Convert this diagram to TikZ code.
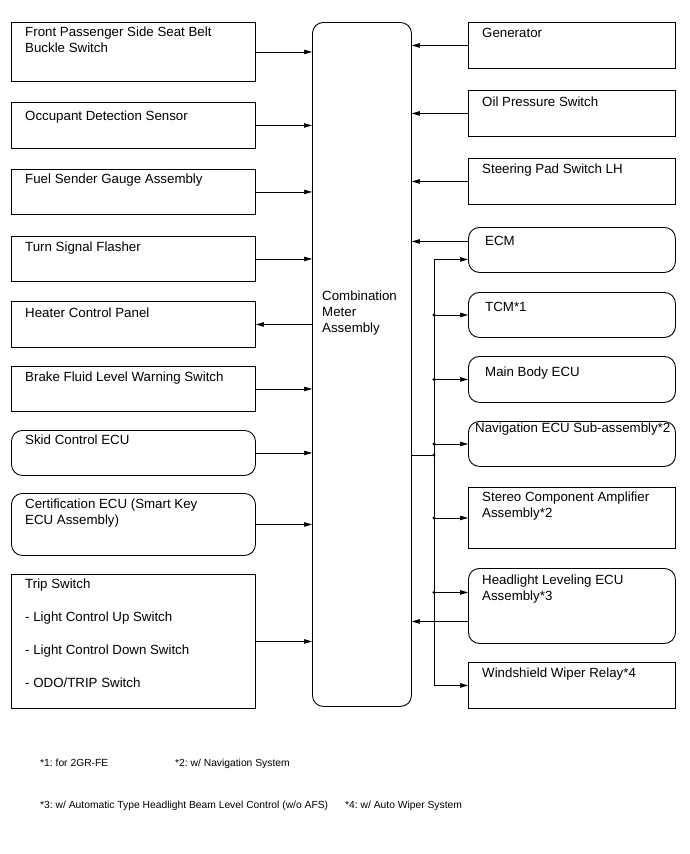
\documentclass[tikz,border=0pt]{standalone}
\usepackage{fontspec}
\setmainfont{Liberation Sans}
\usetikzlibrary{arrows.meta}
\frenchspacing

\tikzset{
  blk/.style={draw, rectangle, anchor=north west, inner sep=0pt, line width=0.9pt},
  rblk/.style={blk, rounded corners=11pt},
  txt/.style={anchor=north west, inner sep=0pt, align=left, xshift=14pt, yshift=-#1},
  txt/.default=6pt,
  wire/.style={line width=0.6pt},
  note/.style={anchor=base west, inner sep=0pt, font=\fontsize{10.3}{12}\selectfont},
}

\begin{document}
\begin{tikzpicture}[x=1pt,y=-1pt,font=\fontsize{13.3}{16}\selectfont,>={Triangle[length=8pt,width=4.5pt]}]
	\useasboundingbox (0,0) rectangle (690,854);
	% Combination meter
	\node (cma) [rblk, minimum width=99pt, minimum height=684pt, label={[txt=269pt, xshift=-4pt]north west:Combination\\Meter\\Assembly}] at (312,22) {};

	% Left side
	\node (fps) [blk, minimum width=244pt, minimum height=59pt, label={[txt=5pt]north west:{Front Passenger Side Seat Belt\\Buckle Switch}}] at (11,22) {};
	\node (ods) [blk, minimum width=244pt, minimum height=46pt, label={[txt=9pt]north west:Occupant Detection Sensor}] at (11,102) {};
	\node (fsg) [blk, minimum width=244pt, minimum height=45pt, label={[txt=5pt]north west:Fuel Sender Gauge Assembly}] at (11,169) {};
	\node (tsf) [blk, minimum width=244pt, minimum height=45pt, label={[txt]north west:Turn Signal Flasher}] at (11,236) {};
	\node (hcp) [blk, minimum width=244pt, minimum height=46pt, label={[txt=7pt]north west:Heater Control Panel}] at (11,301) {};
	\node (bfl) [blk, minimum width=244pt, minimum height=45pt, label={[txt]north west:Brake Fluid Level Warning Switch}] at (11,366) {};
	\node (scu) [rblk, minimum width=244pt, minimum height=45pt, label={[txt=5pt]north west:Skid Control ECU}] at (11,430) {};
	\node (cecu) [rblk, minimum width=244pt, minimum height=62pt, label={[txt]north west:{Certification ECU (Smart Key\\ECU Assembly)}}] at (11,493) {};
	\node (trip) [blk, minimum width=244pt, minimum height=134pt, label={[txt=5pt, font=\fontsize{13.3}{33}\selectfont]north west:{Trip Switch\\- Light Control Up Switch\\- Light Control Down Switch\\- ODO/TRIP Switch}}] at (11,574) {};

	\draw[wire,->] (fps.east) -- (fps.east -| cma.west);
	\draw[wire,->] (ods.east) -- (ods.east -| cma.west);
	\draw[wire,->] (fsg.east) -- (fsg.east -| cma.west);
	\draw[wire,->] (tsf.east) -- (tsf.east -| cma.west);
	\draw[wire,->] (hcp.east -| cma.west) -- (hcp.east);
	\draw[wire,->] (bfl.east) -- (bfl.east -| cma.west);
	\draw[wire,->] (scu.east) -- (scu.east -| cma.west);
	\draw[wire,->] (cecu.east) -- (cecu.east -| cma.west);
	\draw[wire,->] (trip.east) -- (trip.east -| cma.west);

	% Right side
	\node (gen) [blk, minimum width=207pt, minimum height=46pt, label={[txt]north west:Generator}] at (468,22) {};
	\node (ops) [blk, minimum width=207pt, minimum height=46pt, label={[txt=7pt]north west:Oil Pressure Switch}] at (468,90) {};
	\node (sps) [blk, minimum width=207pt, minimum height=46pt, label={[txt]north west:Steering Pad Switch LH}] at (468,158) {};
	\node (ecm) [rblk, minimum width=207pt, minimum height=45pt, label={[txt=9pt, xshift=3pt]north west:ECM}] at (468,227) {};
	\node (tcm) [rblk, minimum width=207pt, minimum height=45pt, label={[txt=10pt, xshift=3pt]north west:TCM*1}] at (468,292) {};
	\node (mbe) [rblk, minimum width=207pt, minimum height=46pt, label={[txt=11pt, xshift=3pt]north west:Main Body ECU}] at (468,356) {};
	\node (nav) [rblk, minimum width=207pt, minimum height=45pt, label={[txt=2pt, xshift=-7pt]north west:Navigation ECU Sub-assembly*2}] at (468,421) {};
	\node (sca) [blk, minimum width=207pt, minimum height=61pt, label={[txt=5pt]north west:{Stereo Component Amplifier\\Assembly*2}}] at (468,487) {};
	\node (hle) [rblk, minimum width=207pt, minimum height=75pt, label={[txt=7pt]north west:{Headlight Leveling ECU\\Assembly*3}}] at (468,568) {};
	\node (wwr) [blk, minimum width=207pt, minimum height=46pt, label={[txt]north west:Windshield Wiper Relay*4}] at (468,662) {};

	\draw[wire,->] (gen.west) -- (gen.west -| cma.east);
	\draw[wire,->] (ops.west) -- (ops.west -| cma.east);
	\draw[wire,->] (sps.west) -- (sps.west -| cma.east);
	\draw[wire,->] ([yshift=8.5pt]ecm.west) -- ([yshift=8.5pt]ecm.west -| cma.east);
	\draw[wire,->] ([yshift=-15.5pt]hle.west) -- ([yshift=-15.5pt]hle.west -| cma.east);

	% Bus to the ECUs
	\coordinate (jn) at (434,455);
	\coordinate (hlin) at ([yshift=13.5pt]hle.west);
	\draw[wire] (cma.east |- jn) -- (jn);
	\draw[wire,->] (jn) |- ([yshift=-9.5pt]ecm.west);
	\draw[wire,->] (jn) |- (wwr.west);
	\draw[wire,->] (jn |- tcm.west) -- (tcm.west);
	\draw[wire,->] (jn |- mbe.west) -- (mbe.west);
	\draw[wire,->] (jn |- nav.west) -- (nav.west);
	\draw[wire,->] (jn |- sca.west) -- (sca.west);
	\draw[wire,->] (jn |- hlin) -- (hlin);
	\fill (jn |- tcm.west) circle (1.6pt);
	\fill (jn |- mbe.west) circle (1.6pt);
	\fill (jn |- nav.west) circle (1.6pt);
	\fill (jn) circle (1.6pt);
	\fill (jn |- sca.west) circle (1.6pt);
	\fill (jn |- hlin) circle (1.6pt);

	% Notes
	\node (n1) [note] at (40,766) {*1: for 2GR-FE};
	\node (n2) [note] at (175,766) {*2: w/ Navigation System};
	\node (n3) [note] at (40,808) {*3: w/ Automatic Type Headlight Beam Level Control (w/o AFS)};
	\node (n4) [note] at (345,808) {*4: w/ Auto Wiper System};
\end{tikzpicture}
\end{document}
